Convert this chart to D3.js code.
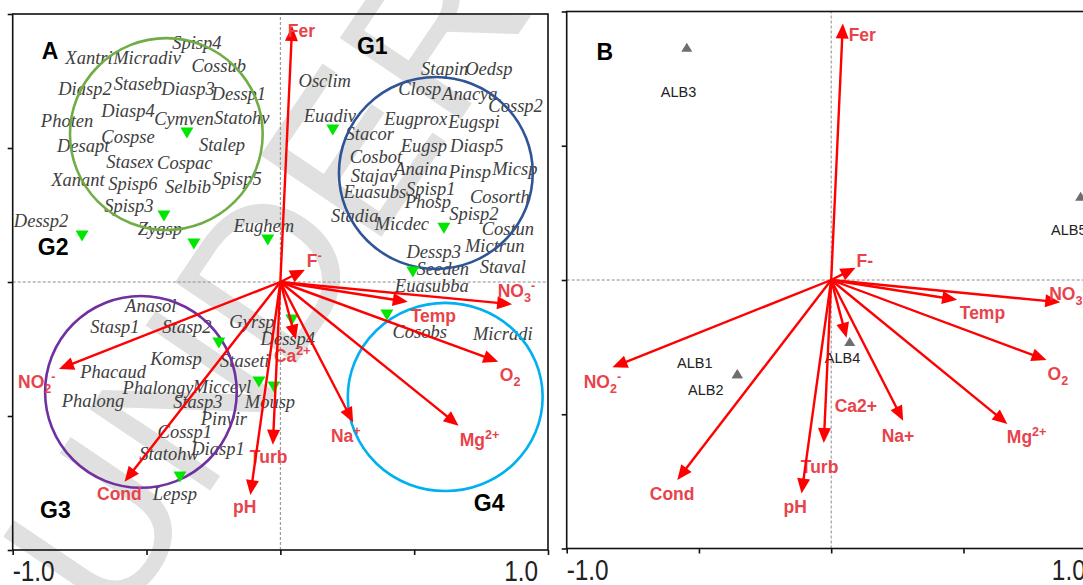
<!DOCTYPE html>
<html>
<head>
<meta charset="utf-8">
<script src="https://cdn.jsdelivr.net/npm/d3@7"></script>
<style>
  body { margin: 0; background: #fff; }
  svg { display: block; }
</style>
</head>
<body>
<div id="chart"></div>
<script>
// environmental vectors (shared by both biplots)
var envX = [0.044, 0.092, 0.866, 0.476, 0.814, 0.666, 0.272, 0.058, -0.028, -0.112, -0.582, -0.827];
var envY = [0.955, 0.046, -0.083, -0.074, -0.298, -0.536, -0.524, -0.215, -0.607, -0.795, -0.745, -0.325];
var envNamesA = ["Fer", "F^-", "NO_3^-", "Temp", "O_2", "Mg^2+", "Na^+", "Ca^2+", "Turb", "pH", "Cond", "NO_2^-"];
var envNamesB = ["Fer", "F-", "NO_3^-", "Temp", "O_2", "Mg^2+", "Na+", "Ca2+", "Turb", "pH", "Cond", "NO_2^-"];
var envLabAX = [0.028, 0.099, 0.812, 0.487, 0.820, 0.670, 0.189, -0.024, -0.114, -0.177, -0.685, -0.980];
var envLabAY = [0.914, 0.056, -0.056, -0.149, -0.369, -0.612, -0.597, -0.299, -0.675, -0.862, -0.813, -0.396];
var envLabBX = [0.066, 0.096, 0.824, 0.486, 0.818, 0.664, 0.191, 0.013, -0.115, -0.180, -0.686, -0.936];
var envLabBY = [0.890, 0.050, -0.073, -0.147, -0.371, -0.606, -0.602, -0.491, -0.718, -0.867, -0.819, -0.401];

// species names (panel A)
var spNames = ["Xantri","Micradiv","Spisp4","Cossub","Diasp2","Staseb","Diasp3","Dessp1","Photen","Diasp4",
  "Cymven","Statohv","Desapt","Cospse","Stalep","Stasex","Cospac","Xanant","Spisp6","Selbib",
  "Spisp5","Spisp3","Dessp2","Zygsp","Eughem","Osclim","Stapin","Oedsp","Closp","Anacya",
  "Cossp2","Euadiv","Eugprox","Eugspi","Stacor","Eugsp","Diasp5","Cosbot","Stajav","Anaina",
  "Pinsp","Micsp","Euasubs","Spisp1","Cosorth","Phosp","Spisp2","Stadia","Micdec","Costun",
  "Dessp3","Mictrun","Seeden","Staval","Euasubba","Cosobs","Micradi","Anasol","Stasp1","Stasp2",
  "Gyrsp","Dessp4","Komsp","Staseti","Phacaud","Phalongy","Micceyl","Phalong","Stasp3","Mousp",
  "Pinvir","Cossp1","Diasp1","Statohw","Lepsp"];
var spX = [-0.715,-0.498,-0.312,-0.230,-0.730,-0.532,-0.345,-0.155,-0.797,-0.569,
  -0.360,-0.144,-0.737,-0.569,-0.218,-0.562,-0.357,-0.756,-0.551,-0.345,
  -0.162,-0.566,-0.894,-0.450,-0.062,0.166,0.614,0.779,0.521,0.708,
  0.879,0.185,0.506,0.723,0.334,0.536,0.734,0.357,0.349,0.525,
  0.708,0.876,0.353,0.562,0.820,0.551,0.723,0.278,0.454,0.850,
  0.573,0.801,0.607,0.831,0.566,0.521,0.831,-0.484,-0.618,-0.349,
  -0.106,0.028,-0.390,-0.133,-0.625,-0.457,-0.218,-0.700,-0.308,-0.039,
  -0.211,-0.357,-0.233,-0.416,-0.394];
var spY = [0.813,0.813,0.869,0.784,0.698,0.716,0.698,0.679,0.578,0.616,
  0.586,0.590,0.485,0.519,0.489,0.425,0.422,0.358,0.343,0.332,
  0.362,0.261,0.205,0.175,0.187,0.728,0.772,0.772,0.698,0.679,
  0.634,0.597,0.586,0.575,0.530,0.485,0.485,0.444,0.373,0.399,
  0.388,0.399,0.313,0.325,0.295,0.276,0.231,0.224,0.194,0.175,
  0.090,0.112,0.026,0.034,-0.037,-0.209,-0.216,-0.112,-0.190,-0.190,
  -0.172,-0.235,-0.310,-0.317,-0.358,-0.418,-0.414,-0.466,-0.470,-0.470,
  -0.534,-0.582,-0.645,-0.664,-0.813];

// green sample markers (panel A)
var markX = [-0.349,-0.435,-0.741,-0.323,-0.047,0.196,0.611,0.495,-0.230,0.043,-0.080,-0.024,0.398,-0.375];
var markY = [0.556,0.246,0.172,0.142,0.157,0.567,0.201,0.037,-0.228,-0.142,-0.373,-0.392,-0.123,-0.728];

// group ellipses (panel A)
var groupNames = ["G1", "G2", "G3", "G4"];
var groupCX = [0.581, -0.426, -0.521, 0.616];
var groupCY = [0.407, 0.552, -0.410, -0.429];
var groupRX = [0.362, 0.360, 0.358, 0.364];
var groupRY = [0.358, 0.358, 0.358, 0.351];
var groupColors = ["#2f5597", "#70ad47", "#7030a0", "#00b0f0"];
var groupLabX = [0.286, -0.906, -0.898, 0.723];
var groupLabY = [0.851, 0.101, -0.881, -0.854];

// sites (panel B)
var siteNames = ["ALB1", "ALB2", "ALB3", "ALB4", "ALB5"];
var siteX = [-0.355, -0.355, -0.546, 0.070, 0.943];
var siteY = [-0.349, -0.349, 0.867, -0.229, 0.312];
var siteLabX = [-0.516, -0.474, -0.577, 0.043, 0.898];
var siteLabY = [-0.326, -0.427, 0.681, -0.308, 0.166];

var W = 1083, H = 585;
var svg = d3.select("#chart").append("svg")
    .attr("width", W)
    .attr("height", H)
    .style("font-family", "Liberation Sans, Arial, sans-serif");

// watermark
svg.append("text")
    .attr("transform", "translate(115,632) rotate(-56)")
    .attr("font-size", 212)
    .attr("fill", "#d9d9d9")
    .attr("opacity", 0.8)
    .text("UNDER REVIEW");

// write "NO_3^-" style labels with sub / superscripts
function richText(t, s) {
  var parts = s.split(/(?=[_^])/);
  var shift = 0;
  parts.forEach(function(p) {
    var span = t.append("tspan");
    var target = 0, txt = p;
    if (p[0] == "_") { target = 5; txt = p.slice(1); span.attr("font-size", "0.72em"); }
    else if (p[0] == "^") { target = -7; txt = p.slice(1); span.attr("font-size", "0.72em"); }
    span.attr("dy", target - shift).text(txt);
    shift = target;
  });
}

function drawPanel(opts) {
  var x = d3.scaleLinear().domain([-1, 1]).range(opts.xr);
  var y = d3.scaleLinear().domain([-1, 1]).range(opts.yr);
  var g = svg.append("g");

  // zero lines
  g.append("line")
      .attr("x1", x(-1)).attr("x2", x(1)).attr("y1", y(0)).attr("y2", y(0))
      .attr("stroke", "#8a8a8a").attr("stroke-width", 1).attr("stroke-dasharray", "3,2");
  g.append("line")
      .attr("x1", x(0)).attr("x2", x(0)).attr("y1", y(-1)).attr("y2", y(1))
      .attr("stroke", "#8a8a8a").attr("stroke-width", 1).attr("stroke-dasharray", "3,2");

  // frame
  g.append("rect")
      .attr("x", x(-1)).attr("y", y(1))
      .attr("width", x(1) - x(-1)).attr("height", y(-1) - y(1))
      .attr("fill", "none").attr("stroke", "#111").attr("stroke-width", 1.6);

  var ticks = [-1, -0.5, 0, 0.5, 1];
  g.append("g")
      .attr("transform", "translate(0," + y(-1) + ")")
      .call(d3.axisBottom(x).tickValues(ticks).tickSize(5).tickFormat(""))
      .call(function(a) { a.select(".domain").remove(); a.selectAll("line").attr("stroke", "#111").attr("stroke-width", 1.6); });
  g.append("g")
      .attr("transform", "translate(" + x(-1) + ",0)")
      .call(d3.axisLeft(y).tickValues(ticks).tickSize(5).tickFormat(""))
      .call(function(a) { a.select(".domain").remove(); a.selectAll("line").attr("stroke", "#111").attr("stroke-width", 1.6); });

  // tick labels at the ends
  [[-1, "-1.0", 0], [1, "1.0", -10]].forEach(function(d) {
    g.append("text")
        .attr("transform", "translate(" + (x(d[0]) + d[2]) + "," + (y(-1) + 31) + ") scale(0.84,1)")
        .attr("text-anchor", d[0] < 0 ? "start" : "end")
        .attr("font-size", 29)
        .attr("fill", "#222")
        .text(d[1]);
  });

  opts.extra(g, x, y);

  // environmental arrows
  var arrows = g.append("g");
  envX.forEach(function(ex, i) {
    var x0 = x(0), y0 = y(0), x1 = x(ex), y1 = y(envY[i]);
    var dx = x1 - x0, dy = y1 - y0, len = Math.sqrt(dx * dx + dy * dy);
    var ux = dx / len, uy = dy / len, hl = 15, hw = 6.5;
    arrows.append("line")
        .attr("x1", x0).attr("y1", y0)
        .attr("x2", x1 - ux * hl * 0.8).attr("y2", y1 - uy * hl * 0.8)
        .attr("stroke", "#ff0000").attr("stroke-width", 2.4);
    var bx = x1 - ux * hl, by = y1 - uy * hl;
    arrows.append("path")
        .attr("d", "M" + x1 + "," + y1 +
          "L" + (bx - uy * hw) + "," + (by + ux * hw) +
          "L" + (bx + uy * hw) + "," + (by - ux * hw) + "Z")
        .attr("fill", "#ff0000");
    var t = arrows.append("text")
        .attr("x", x(opts.labX[i])).attr("y", y(opts.labY[i]))
        .attr("font-size", 17.5)
        .attr("font-weight", "bold")
        .attr("fill", "#e8434b");
    richText(t, opts.names[i]);
  });

  g.append("text")
      .attr("x", x(opts.letter[1])).attr("y", y(opts.letter[2]))
      .attr("font-size", 23).attr("font-weight", "bold").attr("fill", "#000")
      .text(opts.letter[0]);
}

// Panel A
drawPanel({
  xr: [12.7, 548], yr: [550, 14],
  names: envNamesA, labX: envLabAX, labY: envLabAY,
  letter: ["A", -0.891, 0.832],
  extra: function(g, x, y) {
    g.selectAll(".sp").data(spNames).enter().append("text")
        .attr("x", function(d, i) { return x(spX[i]); })
        .attr("y", function(d, i) { return y(spY[i]); })
        .attr("text-anchor", "middle")
        .attr("font-family", "Liberation Serif, Times New Roman, serif")
        .attr("font-style", "italic")
        .attr("font-size", 18.5)
        .attr("fill", "#404040")
        .text(function(d) { return d; });

    g.selectAll(".grp").data(groupNames).enter().append("ellipse")
        .attr("cx", function(d, i) { return x(groupCX[i]); })
        .attr("cy", function(d, i) { return y(groupCY[i]); })
        .attr("rx", function(d, i) { return x(groupRX[i]) - x(0); })
        .attr("ry", function(d, i) { return y(0) - y(groupRY[i]); })
        .attr("fill", "none")
        .attr("stroke", function(d, i) { return groupColors[i]; })
        .attr("stroke-width", 2.6);

    g.selectAll(".grpLab").data(groupNames).enter().append("text")
        .attr("x", function(d, i) { return x(groupLabX[i]); })
        .attr("y", function(d, i) { return y(groupLabY[i]); })
        .attr("font-size", 23).attr("font-weight", "bold").attr("fill", "#000")
        .text(function(d) { return d; });

    g.selectAll(".mk").data(markX).enter().append("path")
        .attr("transform", function(d, i) { return "translate(" + x(d) + "," + y(markY[i]) + ")"; })
        .attr("d", "M-6.5,-5.5L6.5,-5.5L0,5.5Z")
        .attr("fill", "#00e600");
  }
});

// Panel B
drawPanel({
  xr: [566.7, 1095.7], yr: [548.5, 11.5],
  names: envNamesB, labX: envLabBX, labY: envLabBY,
  letter: ["B", -0.887, 0.819],
  extra: function(g, x, y) {
    g.selectAll(".site").data(siteNames).enter().append("path")
        .attr("transform", function(d, i) { return "translate(" + x(siteX[i]) + "," + y(siteY[i]) + ")"; })
        .attr("d", "M-5.5,4.5L5.5,4.5L0,-4.5Z")
        .attr("fill", "#6e6e6e");
    g.selectAll(".siteLab").data(siteNames).enter().append("text")
        .attr("x", function(d, i) { return x(siteLabX[i]); })
        .attr("y", function(d, i) { return y(siteLabY[i]); })
        .attr("text-anchor", "middle")
        .attr("font-size", 14.5)
        .attr("fill", "#222")
        .text(function(d) { return d; });
  }
});
</script>
</body>
</html>
